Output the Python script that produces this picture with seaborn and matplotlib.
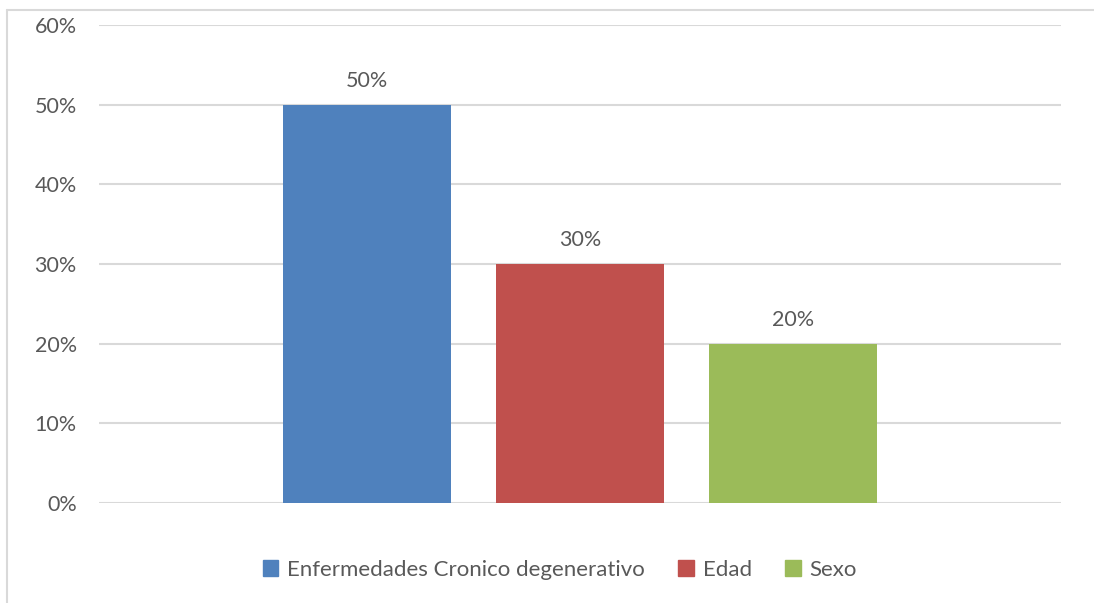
import matplotlib
matplotlib.use("Agg")
import matplotlib.pyplot as plt
import matplotlib.lines as mlines
import matplotlib.patches as mpatches
import seaborn as sns
import pandas as pd

# Chart data
categories = ["Enfermedades Cronico degenerativo", "Edad", "Sexo"]
values = [0.50, 0.30, 0.20]
colors = ["#4F81BD", "#C0504D", "#9BBB59"]
yticks = [0.0, 0.1, 0.2, 0.3, 0.4, 0.5, 0.6]

df = pd.DataFrame({"factor": categories, "valor": values})

sns.set_theme(style="white")
plt.rcParams["font.family"] = ["Lato", "DejaVu Sans"]
text_color = "#595959"
grid_color = "#D9D9D9"
fs = 15.5

fig = plt.figure(figsize=(10.94, 6.03), dpi=100)
ax = fig.add_axes([99 / 1094, 1 - 503 / 603, (1061 - 99) / 1094, (503 - 25) / 603])

sns.barplot(data=df, x="factor", y="valor", hue="factor", palette=colors,
            order=categories, hue_order=categories, dodge=False,
            width=0.79, saturation=1, legend=False, linewidth=0, ax=ax)

ax.set_xlim(-1.26, 3.26)
ax.set_ylim(0, 0.6)
ax.set_yticks(yticks)
ax.set_yticklabels([f"{int(round(t * 100))}%" for t in yticks])
ax.set_xticks([])
ax.set_xlabel("")
ax.set_ylabel("")
ax.yaxis.grid(True, color=grid_color, linewidth=1.5)
ax.set_axisbelow(True)
for s in ax.spines.values():
    s.set_visible(False)
ax.tick_params(axis="y", length=0, pad=16, labelsize=fs, labelcolor=text_color)

# Value labels above bars
for patch, v in zip(ax.patches, values):
    ax.annotate(f"{int(round(v * 100))}%",
                (patch.get_x() + patch.get_width() / 2, patch.get_height()),
                xytext=(0, 10), textcoords="offset points",
                ha="center", va="bottom", fontsize=fs, color=text_color)

# Legend below the plot
handles = [mpatches.Patch(color=c, label=l) for c, l in zip(colors, categories)]
fig.legend(handles=handles, loc="center", bbox_to_anchor=(560 / 1094, 1 - 570 / 603),
           ncol=3, frameon=False, fontsize=16, labelcolor=text_color,
           handlelength=0.7, handleheight=0.7, handletextpad=0.4, columnspacing=1.5)

# Chart area outline (left and top edges)
fig.add_artist(mlines.Line2D([7 / 1094, 7 / 1094], [0, 1 - 10 / 603],
                             transform=fig.transFigure, color=grid_color, linewidth=1.5))
fig.add_artist(mlines.Line2D([7 / 1094, 1], [1 - 10 / 603, 1 - 10 / 603],
                             transform=fig.transFigure, color=grid_color, linewidth=1.5))

fig.savefig("out.png", dpi=100, facecolor="white")
